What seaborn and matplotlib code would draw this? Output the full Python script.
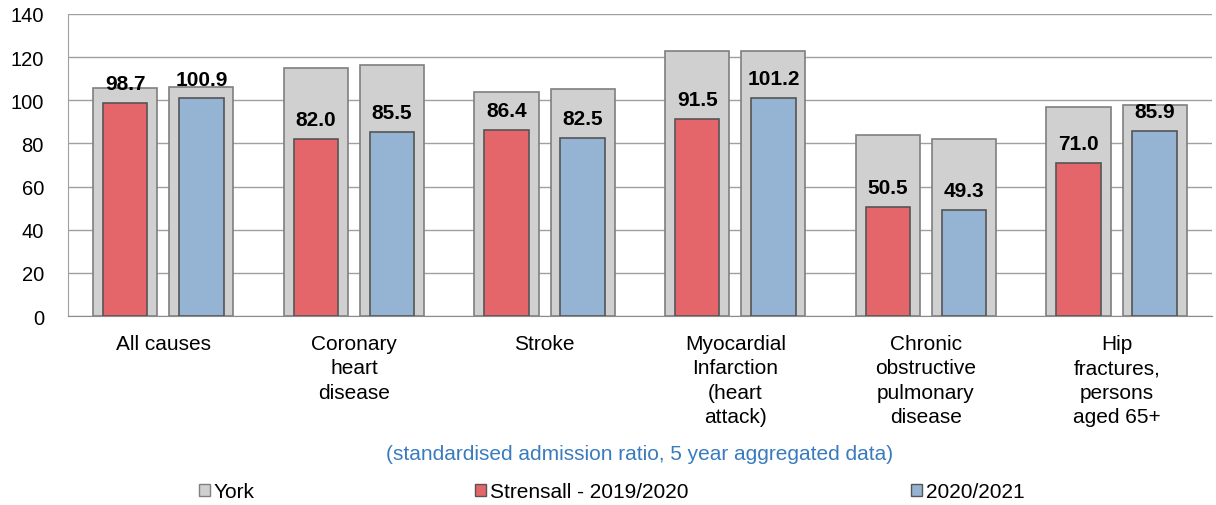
import matplotlib
matplotlib.use("Agg")
import matplotlib.pyplot as plt
from matplotlib.patches import Patch
import numpy as np
import pandas as pd
import seaborn as sns

# Admission ratios by cause
categories = [
    "All causes",
    "Coronary\nheart\ndisease",
    "Stroke",
    "Myocardial\nInfarction\n(heart\nattack)",
    "Chronic\nobstructive\npulmonary\ndisease",
    "Hip\nfractures,\npersons\naged 65+",
]
periods = ["2019/2020", "2020/2021"]
york_2019 = [105.8, 115.1, 104.0, 122.7, 83.9, 96.7]
york_2020 = [106.0, 116.4, 105.4, 122.7, 82.2, 97.9]
strensall_2019 = [98.7, 82.0, 86.4, 91.5, 50.5, 71.0]
strensall_2020 = [100.9, 85.5, 82.5, 101.2, 49.3, 85.9]

legend_labels = ["York", "Strensall - 2019/2020", "2020/2021"]
subtitle = "(standardised admission ratio, 5 year aggregated data)"

GREY = "#D0D0D0"
RED = "#E5666A"
BLUE = "#95B3D3"

york = pd.DataFrame({
    "cause": categories * 2,
    "period": [periods[0]] * 6 + [periods[1]] * 6,
    "value": york_2019 + york_2020,
})
local = pd.DataFrame({
    "cause": categories * 2,
    "period": [periods[0]] * 6 + [periods[1]] * 6,
    "value": strensall_2019 + strensall_2020,
})

sns.set_style("white")
plt.rcParams["font.family"] = ["Liberation Sans", "DejaVu Sans"]
plt.rcParams["text.color"] = "black"

fig = plt.figure(figsize=(12.16, 5.06), dpi=100)
ax = fig.add_axes([0.0559, 0.3735, 0.9408, 0.5969])

sns.barplot(data=york, x="cause", y="value", hue="period",
            palette=[GREY, GREY], saturation=1, width=0.8, gap=0.16,
            edgecolor="#7F7F7F", linewidth=1.2, ax=ax, legend=False,
            errorbar=None, zorder=2)
sns.barplot(data=local, x="cause", y="value", hue="period",
            palette=[RED, BLUE], saturation=1, width=0.8, gap=0.415,
            edgecolor="#555555", linewidth=1.2, ax=ax, legend=False,
            errorbar=None, zorder=3)

# value labels above the Strensall bars
for cont in ax.containers[2:]:
    ax.bar_label(cont, fmt="%.1f", padding=7, fontsize=15,
                 fontweight="bold", color="black", zorder=5)

ax.set_ylim(0, 140)
ax.set_xlim(-0.5, 5.5)
ax.set_yticks(np.arange(0, 141, 20))
ax.yaxis.grid(True, color="#A0A0A0", linewidth=1.0, zorder=0)
ax.set_axisbelow(True)
ax.set_xlabel("")
ax.set_ylabel("")

for side in ["top", "right"]:
    ax.spines[side].set_visible(False)
ax.spines["left"].set_color("#A0A0A0")
ax.spines["bottom"].set_color("#8C8C8C")

ax.tick_params(axis="y", which="major", length=4.3, color="#A0A0A0",
               labelsize=14.5, pad=13, labelcolor="black")
ax.tick_params(axis="x", which="major", length=0, labelsize=15, pad=13,
               labelcolor="black")
ax.set_xticks(np.arange(-0.5, 6.0, 1.0), minor=True)
ax.tick_params(axis="x", which="minor", length=4.3, color="#A0A0A0")
for lbl in ax.get_xticklabels():
    lbl.set_linespacing(1.36)

fig.text(640 / 1216, 1 - 455 / 506, subtitle, ha="center", va="center",
         fontsize=15, color="#3A7BBF")

handles = [
    Patch(facecolor=GREY, edgecolor="#7F7F7F", linewidth=1.0),
    Patch(facecolor=RED, edgecolor="#555555", linewidth=1.0),
    Patch(facecolor=BLUE, edgecolor="#555555", linewidth=1.0),
]
xs = [199, 475, 911]
for h, lab, x in zip(handles, legend_labels, xs):
    leg = fig.legend([h], [lab], loc="center left",
                     bbox_to_anchor=(x / 1216, 1 - 493 / 506),
                     frameon=False, fontsize=15, handlelength=0.55,
                     handleheight=0.55, handletextpad=0.15, borderpad=0,
                     borderaxespad=0)
    for t in leg.get_texts():
        t.set_color("black")

fig.savefig("out.png", dpi=100)
